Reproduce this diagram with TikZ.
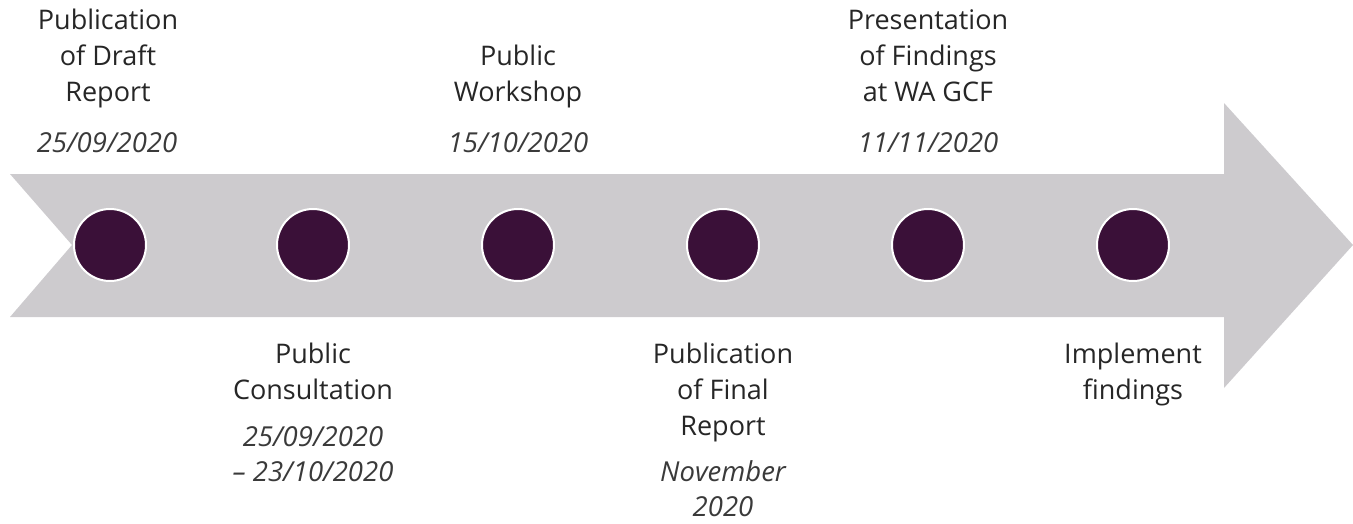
\documentclass[tikz,border=0pt]{standalone}
\usepackage{fontspec}
\setmainfont{Open Sans}
\definecolor{arrowgray}{HTML}{CDCBCE}
\definecolor{dotpurple}{HTML}{3A1038}
\definecolor{txt}{HTML}{262626}
\definecolor{datetxt}{HTML}{3A3A3A}
\begin{document}
\begin{tikzpicture}[x=1pt,y=-1pt,
  dot/.style={circle,fill=dotpurple,draw=white,line width=2pt,minimum size=72pt,inner sep=0pt},
  lbl/.style={anchor=north,align=center,inner sep=0pt,text=txt,font=\fontsize{27}{36}\selectfont},
  datelbl/.style={anchor=north,align=center,inner sep=0pt,text=datetxt,font=\fontsize{27.5}{35}\selectfont\itshape}]
\useasboundingbox (0,0) rectangle (1353,523);
% big arrow
\fill[arrowgray] (10,174) -- (1224,174) -- (1224,103) -- (1353,245) -- (1224,388) -- (1224,317) -- (10,317) -- (72,245) -- cycle;
% dots
\node[dot] (c1) at (110,245) {};
\node[dot] (c2) at (313,245) {};
\node[dot] (c3) at (518,245) {};
\node[dot] (c4) at (723,245) {};
\node[dot] (c5) at (928,245) {};
\node[dot] (c6) at (1133,245) {};
% labels above
\node[lbl] (l1) at (108,9) {Publication\\of Draft\\Report};
\node[datelbl] (d1) at (107,132) {25/09/2020};
\node[lbl] (l3) at (518,45) {Public\\Workshop};
\node[datelbl] (d3) at (518,132) {15/10/2020};
\node[lbl] (l5) at (928,9) {Presentation\\of Findings\\at WA GCF};
\node[datelbl] (d5) at (928,132) {11/11/2020};
% labels below
\node[lbl] (l2) at (313,343) {Public\\Consultation};
\node[datelbl] (d2) at (313,426) {25/09/2020\\– 23/10/2020};
\node[lbl] (l4) at (723,343) {Publication\\of Final\\Report};
\node[datelbl] (d4) at (723,460) {November\\2020};
\node[lbl] (l6) at (1133,343) {Implement\\findings};
\end{tikzpicture}
\end{document}
